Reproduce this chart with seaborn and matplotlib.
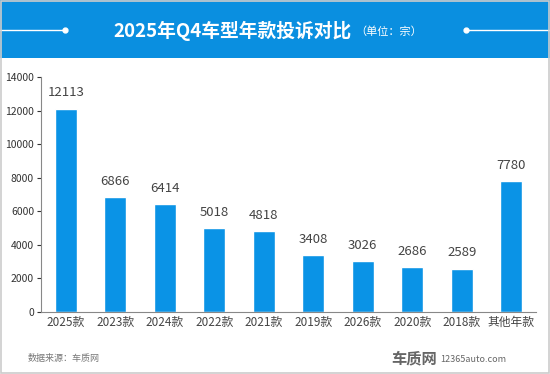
import matplotlib
matplotlib.use('Agg')
import matplotlib.pyplot as plt
import seaborn as sns
import pandas as pd
from matplotlib.patches import Rectangle
from matplotlib.lines import Line2D

# 数据
years = ['2025款', '2023款', '2024款', '2022款', '2021款', '2019款', '2026款', '2020款', '2018款', '其他年款']
counts = [12113, 6866, 6414, 5018, 4818, 3408, 3026, 2686, 2589, 7780]
yticks = [0, 2000, 4000, 6000, 8000, 10000, 12000, 14000]

bar_color = '#0A93E6'
head_color = '#0A8FE0'

sns.set_theme(style='white')
plt.rcParams['font.family'] = ['Noto Sans CJK SC', 'DejaVu Sans']

df = pd.DataFrame({'year': years, 'count': counts})

fig = plt.figure(figsize=(5.5, 3.74), dpi=100)
fig.patch.set_facecolor('white')

# 顶部蓝色横幅
fig.patches.append(Rectangle((0, 1 - 58 / 374), 1, 58 / 374, transform=fig.transFigure,
                             facecolor=head_color, edgecolor='none', zorder=0))
fig.lines.append(Line2D([0, 65 / 550], [1 - 30 / 374] * 2, transform=fig.transFigure,
                        color='white', lw=1))
fig.lines.append(Line2D([466 / 550, 1], [1 - 30 / 374] * 2, transform=fig.transFigure,
                        color='white', lw=1))
fig.lines.append(Line2D([65 / 550, 466 / 550], [1 - 30 / 374] * 2, transform=fig.transFigure,
                        color='white', lw=0, marker='o', markersize=3.5,
                        markerfacecolor='white', markeredgecolor='white'))
fig.text(352 / 550, 1 - 31 / 374, '2025年Q4车型年款投诉对比', color='white', fontsize=13.5,
         fontweight='bold', ha='right', va='center')
fig.text(355 / 550, 1 - 32 / 374, '（单位：宗）', color='white', fontsize=8,
         ha='left', va='center')

# 外框
fig.patches.append(Rectangle((0.001, 0.002), 0.997, 0.996, transform=fig.transFigure,
                             facecolor='none', edgecolor='#CCCCCC', lw=1.2, zorder=5))

ax = fig.add_axes([41 / 550, 1 - 312 / 374, (536 - 41) / 550, (312 - 77) / 374])
sns.barplot(data=df, x='year', y='count', color=bar_color, width=0.45, saturation=1, ax=ax)

ax.set_ylim(0, 14000)
ax.set_yticks(yticks)
ax.set_xlim(-0.5, len(years) - 0.5)
ax.set_xlabel('')
ax.set_ylabel('')
ax.tick_params(axis='y', labelsize=7.5, colors='#333333', length=3, width=0.8,
               direction='out', left=True, pad=2)
ax.tick_params(axis='x', labelsize=8.5, colors='#444444', length=0, pad=3)
for s in ['top', 'right']:
    ax.spines[s].set_visible(False)
for s in ['left', 'bottom']:
    ax.spines[s].set_color('#888888')
    ax.spines[s].set_linewidth(0.8)

for i, v in enumerate(counts):
    ax.text(i, v + 550, str(v), ha='center', va='bottom', fontsize=9.5, color='#444444')

fig.text(28 / 550, 1 - 359 / 374, '数据来源：车质网', fontsize=6.5, color='#777777',
         ha='left', va='center')
fig.text(437 / 550, 1 - 358 / 374, '车质网', fontsize=11, color='#666666', fontweight='bold',
         ha='right', va='center')
fig.text(440 / 550, 1 - 359 / 374, '12365auto.com', fontsize=6.5, color='#666666',
         ha='left', va='center')

plt.savefig('out.png', dpi=100)
